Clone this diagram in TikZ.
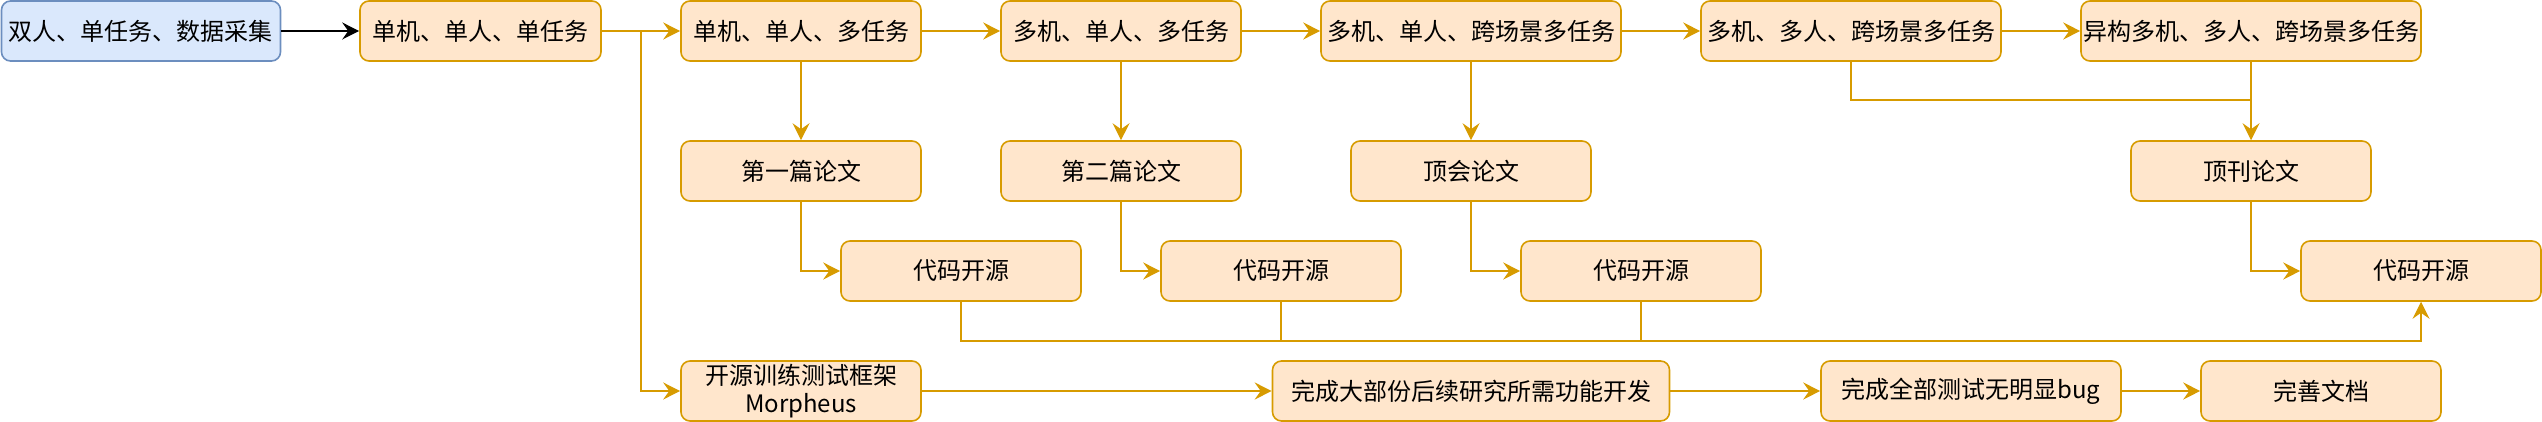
\documentclass[tikz,border=0pt]{standalone}
\usepackage{fontspec}
\setmainfont{Noto Sans CJK SC}
\usetikzlibrary{arrows.meta}
\definecolor{ofill}{HTML}{FFE6CC}
\definecolor{oline}{HTML}{D79B00}
\definecolor{bfill}{HTML}{DAE8FC}
\definecolor{bline}{HTML}{6C8EBF}
\begin{document}
\begin{tikzpicture}[x=1pt,y=-1pt,
  box/.style={draw=oline, fill=ofill, line width=1.6pt, rounded corners=9pt,
    minimum height=60pt, inner sep=0pt, font=\fontsize{24}{28}\selectfont, align=center},
  bluebox/.style={box, draw=bline, fill=bfill},
  conn/.style={draw=oline, line width=1.4pt, -{Stealth[length=17pt,width=17pt,inset=6pt]}},
  plainline/.style={draw=oline, line width=1.4pt}]
\useasboundingbox (0,0) rectangle (2542,422);
% row 1
\node[bluebox, minimum width=279pt] (a) at (141,31) {双人、单任务、数据采集};
\node[box, minimum width=241pt] (b) at (480.5,31) {单机、单人、单任务};
\node[box, minimum width=240pt] (c) at (801,31) {单机、单人、多任务};
\node[box, minimum width=240pt] (d) at (1121,31) {多机、单人、多任务};
\node[box, minimum width=300pt] (e) at (1471,31) {多机、单人、跨场景多任务};
\node[box, minimum width=300pt] (f) at (1851,31) {多机、多人、跨场景多任务};
\node[box, minimum width=340pt] (g) at (2251,31) {异构多机、多人、跨场景多任务};
% row 2
\node[box, minimum width=240pt] (p1) at (801,171) {第一篇论文};
\node[box, minimum width=240pt] (p2) at (1121,171) {第二篇论文};
\node[box, minimum width=240pt] (p3) at (1471,171) {顶会论文};
\node[box, minimum width=240pt] (p4) at (2251,171) {顶刊论文};
% row 3
\node[box, minimum width=240pt] (k1) at (961,271) {代码开源};
\node[box, minimum width=240pt] (k2) at (1281,271) {代码开源};
\node[box, minimum width=240pt] (k3) at (1641,271) {代码开源};
\node[box, minimum width=240pt] (k4) at (2421,271) {代码开源};
% row 4
\node[box, minimum width=240pt] (m) at (801,391) {开源训练测试框架\\Morpheus};
\node[box, minimum width=397pt] (dev) at (1471,391) {完成大部份后续研究所需功能开发};
\node[box, minimum width=300pt] (test) at (1971,391) {完成全部测试无明显bug};
\node[box, minimum width=240pt] (doc) at (2321,391) {完善文档};
% junction points
\coordinate (tj) at (641,31);
\coordinate (gj) at (2251,100);
\coordinate (kj) at (2421,341);
% connectors
\draw[line width=1.4pt, -{Stealth[length=17pt,width=17pt,inset=6pt]}] (a.east) -- (b.west);
\draw[conn] (b.east) -- (c.west);
\draw[conn] (tj) |- (m.west);
\draw[conn] (c.east) -- (d.west);
\draw[conn] (d.east) -- (e.west);
\draw[conn] (e.east) -- (f.west);
\draw[conn] (f.east) -- (g.west);
\draw[conn] (c.south) -- (p1.north);
\draw[conn] (d.south) -- (p2.north);
\draw[conn] (e.south) -- (p3.north);
\draw[plainline] (f.south) |- (gj);
\draw[conn] (g.south) -- (p4.north);
\draw[conn] (p1.south) |- (k1.west);
\draw[conn] (p2.south) |- (k2.west);
\draw[conn] (p3.south) |- (k3.west);
\draw[conn] (p4.south) |- (k4.west);
\draw[conn] (k1.south) |- (kj) -- (k4.south);
\draw[plainline] (k2.south) -- (k2.south |- kj);
\draw[plainline] (k3.south) -- (k3.south |- kj);
\draw[conn] (m.east) -- (dev.west);
\draw[conn] (dev.east) -- (test.west);
\draw[conn] (test.east) -- (doc.west);
\end{tikzpicture}
\end{document}
